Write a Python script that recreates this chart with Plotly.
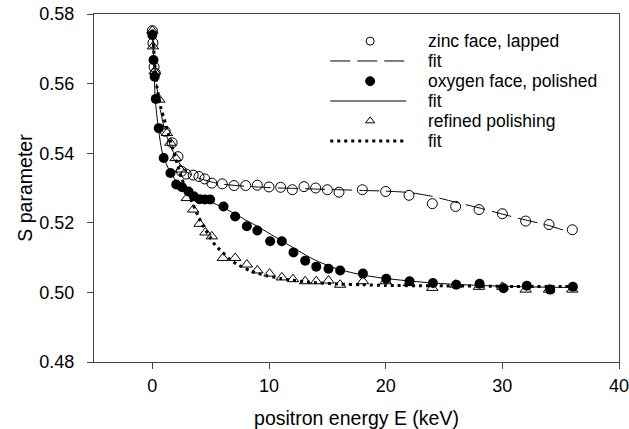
import plotly.graph_objects as go

# measured points (energy in keV, S parameter)
zinc_E = [0.0, 0.05, 0.15, 0.25, 1.1, 1.7, 2.2, 2.5, 2.9, 3.5, 4.0, 4.5, 5.1, 6.0, 7.0, 8.0,
          9.0, 10.0, 11.0, 12.0, 13.0, 14.0, 15.0, 16.0, 18.0, 20.0, 22.0, 24.0, 26.0, 28.0,
          30.0, 32.0, 34.0, 36.0]
zinc_S = [0.5752, 0.5717, 0.5648, 0.5630, 0.5463, 0.5430, 0.5390, 0.5348, 0.5340, 0.5337,
          0.5333, 0.5326, 0.5314, 0.5312, 0.5307, 0.5307, 0.5308, 0.5303, 0.5302, 0.5295,
          0.5304, 0.5300, 0.5295, 0.5288, 0.5295, 0.5290, 0.5279, 0.5255, 0.5247, 0.5238,
          0.5226, 0.5205, 0.5195, 0.5180]

oxygen_E = [0.0, 0.1, 0.2, 0.3, 0.55, 0.97, 1.55, 2.05, 2.55, 3.1, 3.55, 4.05, 4.5, 4.95,
            6.1, 7.1, 8.1, 9.0, 10.1, 11.1, 12.1, 13.1, 14.05, 15.1, 16.1, 18.05, 20.05,
            22.05, 24.05, 26.05, 28.05, 30.1, 32.1, 34.1, 36.05]
oxygen_S = [0.5740, 0.5668, 0.5620, 0.5556, 0.5472, 0.5386, 0.5343, 0.5310, 0.5302, 0.5290,
            0.5276, 0.5268, 0.5267, 0.5267, 0.5247, 0.5218, 0.5190, 0.5178, 0.5147, 0.5147,
            0.5115, 0.5091, 0.5074, 0.5068, 0.5063, 0.5054, 0.5039, 0.5032, 0.5027, 0.5022,
            0.5025, 0.5012, 0.5019, 0.5008, 0.5016]

refined_E = [0.0, 0.05, 0.2, 0.6, 1.25, 1.55, 2.0, 2.4, 2.95, 3.5, 4.05, 4.55, 5.1, 6.05,
             7.1, 8.1, 9.0, 10.05, 11.1, 12.05, 13.1, 14.05, 15.1, 16.1, 18.05, 20.0, 22.0,
             24.0, 26.0, 28.0, 30.0, 32.0, 34.0, 36.0]
refined_S = [0.5752, 0.5707, 0.5635, 0.5554, 0.5458, 0.5430, 0.5386, 0.5353, 0.5271, 0.5238,
             0.5197, 0.5172, 0.5161, 0.5099, 0.5099, 0.5080, 0.5063, 0.5054, 0.5043, 0.5038,
             0.5032, 0.5032, 0.5034, 0.5022, 0.5032, 0.5032, 0.5027, 0.5013, 0.5022, 0.5016,
             0.5016, 0.5008, 0.5008, 0.5008]

# fit curves
zinc_fit_E = [0.0, 0.2, 0.5, 1.0, 1.5, 2.0, 2.5, 3.0, 3.5, 4.0, 5.0, 6.0, 8.0, 10.0, 12.0,
              14.0, 16.0, 18.0, 20.0, 22.0, 24.0, 26.0, 28.0, 30.0, 32.0, 34.0, 35.5]
zinc_fit_S = [0.5755, 0.5660, 0.5560, 0.5475, 0.5425, 0.5390, 0.5362, 0.5345, 0.5335, 0.5328,
              0.5318, 0.5311, 0.5305, 0.5301, 0.5299, 0.5297, 0.5295, 0.5293, 0.5291, 0.5287,
              0.5276, 0.5259, 0.5243, 0.5225, 0.5208, 0.5192, 0.5176]

oxygen_fit_E = [0.0, 0.1, 0.25, 0.5, 0.8, 1.0, 1.5, 2.0, 2.5, 3.0, 4.0, 5.0, 6.0, 7.0, 8.0,
                9.0, 10.0, 11.0, 12.0, 13.0, 14.0, 15.0, 16.0, 18.0, 20.0, 22.0, 24.0, 26.0,
                28.0, 30.0, 32.0, 34.0, 36.0]
oxygen_fit_S = [0.5755, 0.5680, 0.5555, 0.5475, 0.5410, 0.5385, 0.5348, 0.5322, 0.5305,
                0.5293, 0.5276, 0.5260, 0.5245, 0.5227, 0.5208, 0.5190, 0.5170, 0.5150,
                0.5130, 0.5110, 0.5092, 0.5078, 0.5066, 0.5050, 0.5040, 0.5033, 0.5027,
                0.5023, 0.5020, 0.5018, 0.5016, 0.5015, 0.5014]

refined_fit_E = [0.0, 0.2, 0.4, 0.75, 1.0, 1.5, 2.0, 2.5, 3.0, 3.5, 4.0, 4.55, 5.0, 5.4, 6.0,
                 6.5, 7.2, 8.4, 9.1, 9.8, 11.0, 12.0, 13.0, 14.0, 16.0, 18.0, 20.0, 24.0,
                 28.0, 32.0, 36.4]
refined_fit_S = [0.5755, 0.5660, 0.5590, 0.5527, 0.5500, 0.5440, 0.5385, 0.5330, 0.5288,
                 0.5252, 0.5214, 0.5180, 0.5156, 0.5135, 0.5116, 0.5099, 0.5082, 0.5062,
                 0.5054, 0.5048, 0.5040, 0.5035, 0.5031, 0.5028, 0.5024, 0.5022, 0.5020,
                 0.5019, 0.5018, 0.5017, 0.5017]

legend_labels = ["zinc face, lapped", "fit", "oxygen face, polished", "fit",
                 "refined polishing", "fit"]

FONT = "Liberation Sans, Arial, sans-serif"
DASHED = "20px,7px"
DOTTED = "3px,4px"

fig = go.Figure()

fig.add_trace(go.Scatter(x=zinc_E, y=zinc_S, mode="markers",
                         marker=dict(symbol="circle-open", size=10, color="black",
                                     line=dict(width=1, color="black"))))
fig.add_trace(go.Scatter(x=zinc_fit_E, y=zinc_fit_S, mode="lines",
                         line=dict(color="black", width=1, dash=DASHED, shape="spline",
                                   smoothing=0.6)))
fig.add_trace(go.Scatter(x=oxygen_E, y=oxygen_S, mode="markers",
                         marker=dict(symbol="circle", size=10, color="black")))
fig.add_trace(go.Scatter(x=oxygen_fit_E, y=oxygen_fit_S, mode="lines",
                         line=dict(color="black", width=1, shape="spline", smoothing=0.6)))
fig.add_trace(go.Scatter(x=refined_E, y=refined_S, mode="markers",
                         marker=dict(symbol="triangle-up-open", size=10, color="black",
                                     line=dict(width=1, color="black"))))
fig.add_trace(go.Scatter(x=refined_fit_E, y=refined_fit_S, mode="lines",
                         line=dict(color="black", width=3, dash=DOTTED, shape="spline",
                                   smoothing=0.6)))

# hand-drawn legend on an overlay axis spanning 0..1 of the plot area
rows = [0.922, 0.865, 0.807, 0.750, 0.693, 0.635]
sym_x, line_x0, line_x1, text_x = 0.526, 0.45, 0.595, 0.632
legend_markers = [("circle-open", 8, 0), ("circle", 9, 2), ("triangle-up-open", 8, 4)]
for sym, size, row in legend_markers:
    fig.add_trace(go.Scatter(x=[sym_x], y=[rows[row]], xaxis="x2", yaxis="y2", mode="markers",
                             marker=dict(symbol=sym, size=size, color="black",
                                         line=dict(width=1, color="black"))))
for dash, width, row in [(DASHED, 1, 1), ("solid", 1, 3), (DOTTED, 3, 5)]:
    fig.add_trace(go.Scatter(x=[line_x0, line_x1], y=[rows[row]] * 2, xaxis="x2", yaxis="y2",
                             mode="lines", line=dict(color="black", width=width, dash=dash)))
for label, yv in zip(legend_labels, rows):
    fig.add_annotation(x=text_x, y=yv, xref="paper", yref="paper", text=label,
                       showarrow=False, xanchor="left", yanchor="middle",
                       font=dict(family=FONT, size=17.5, color="black"))

axis_common = dict(showline=True, linecolor="#444", linewidth=1, mirror=True,
                   ticks="outside", ticklen=6, tickcolor="#444", showgrid=False,
                   zeroline=False, automargin=False, ticklabeloverflow="allow",
                   tickfont=dict(family=FONT, size=18, color="black"))

fig.update_layout(
    width=629, height=429,
    margin=dict(l=94, r=10, t=14, b=67),
    paper_bgcolor="white", plot_bgcolor="white",
    showlegend=False,
    font=dict(family=FONT, color="black"),
    xaxis=dict(range=[-5, 40], tickvals=[0, 10, 20, 30, 40], ticklabelstandoff=1,
               title=dict(text="positron energy E (keV)", standoff=19,
                          font=dict(family=FONT, size=19.5, color="black")),
               **axis_common),
    yaxis=dict(range=[0.48, 0.58], tickvals=[0.48, 0.50, 0.52, 0.54, 0.56, 0.58],
               tickformat=".2f", ticklabelstandoff=9,
               title=dict(text="S parameter", standoff=1,
                          font=dict(family=FONT, size=19.5, color="black")),
               **axis_common),
    xaxis2=dict(overlaying="x", anchor="y2", range=[0, 1], visible=False, fixedrange=True,
                automargin=False),
    yaxis2=dict(overlaying="y", anchor="x2", range=[0, 1], visible=False, fixedrange=True,
                automargin=False),
)

# drop the default 8px page margin so the figure sits at the window origin
fig.write_html("out.html", config={"displayModeBar": False},
               post_script="document.body.style.margin = '0';")
